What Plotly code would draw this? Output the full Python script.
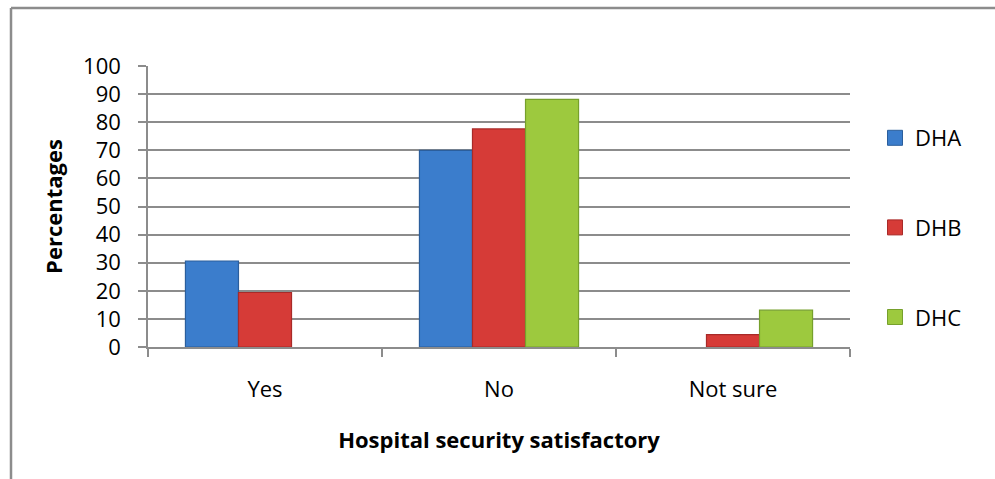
import plotly.graph_objects as go

categories = ["Yes", "No", "Not sure"]
series_names = ["DHA", "DHB", "DHC"]
dha = [30.6, 70.0, 0]
dhb = [19.4, 77.6, 4.4]
dhc = [0, 88.1, 13.1]
y_ticks = [0, 10, 20, 30, 40, 50, 60, 70, 80, 90, 100]

fills = ["#3B7DCC", "#D63B37", "#9DC93E"]
edges = ["#2B5E9C", "#A82A28", "#76A02C"]

FONT = "Open Sans"
FS = 22
GRID = "#8C8C8C"

fig = go.Figure()
for i, (name, vals) in enumerate(zip(series_names, [dha, dhb, dhc])):
    fig.add_trace(go.Bar(
        name=name, x=categories, y=vals, legendgroup=name, showlegend=False,
        marker=dict(color=fills[i],
                    line=dict(color=edges[i], width=[1.2 if v else 0 for v in vals])),
    ))
# legend entries with larger square swatches
for i, name in enumerate(series_names):
    fig.add_trace(go.Scatter(
        name=name, x=[None], y=[None], mode="markers", legendgroup=name,
        marker=dict(symbol="square", size=15, color=fills[i],
                    line=dict(color=edges[i], width=1)),
    ))

# plot area in pixels
L, R, T, B = 148, 850, 66, 347
W, H = 995, 479
pw, ph = R - L, B - T

def px_x(x):
    return (x - L) / pw

def px_y(y):
    return (B - y) / ph

fig.update_layout(
    width=W, height=H,
    margin=dict(l=L, r=W - R, t=T, b=H - B, pad=0),
    paper_bgcolor="white", plot_bgcolor="white",
    barmode="group", bargap=0.32, bargroupgap=0,
    font=dict(family=FONT, size=FS, color="black"),
    showlegend=True,
    legend=dict(
        x=px_x(875), y=px_y(117), xanchor="left", yanchor="top",
        font=dict(family=FONT, size=FS, color="black"),
        tracegroupgap=58, bgcolor="rgba(0,0,0,0)", itemwidth=30,
    ),
    xaxis=dict(
        type="category", showgrid=False, showline=True, linecolor=GRID, linewidth=1.5,
        ticks="outside", ticklen=8, tickcolor=GRID, tickwidth=1.5,
        tickson="boundaries", ticklabelstandoff=22,
        tickfont=dict(family=FONT, size=FS, color="black"),
        title=dict(text="<b>Hospital security satisfactory</b>", standoff=30,
                   font=dict(family=FONT, size=FS, color="black")),
    ),
    yaxis=dict(
        range=[0, 100], tickvals=y_ticks, showgrid=True, gridcolor=GRID, gridwidth=1.5,
        showline=True, linecolor=GRID, linewidth=1.5, zeroline=False,
        ticks="outside", ticklen=8, tickcolor=GRID, tickwidth=1.5,
        ticklabelstandoff=13,
        tickfont=dict(family=FONT, size=FS, color="black"),
        title=dict(text="<b>Percentages</b>", standoff=14,
                   font=dict(family=FONT, size=FS, color="black")),
    ),
)

# outer chart border (top and left visible)
fig.add_shape(type="line", xref="paper", yref="paper",
              x0=px_x(11), x1=px_x(1000), y0=px_y(8), y1=px_y(8),
              line=dict(color=GRID, width=2.5))
fig.add_shape(type="line", xref="paper", yref="paper",
              x0=px_x(11), x1=px_x(11), y0=px_y(8), y1=px_y(485),
              line=dict(color=GRID, width=2.5))

fig.write_html("out.html", config={"displayModeBar": False},
               post_script="document.body.style.margin='0';document.body.style.overflow='hidden';")
